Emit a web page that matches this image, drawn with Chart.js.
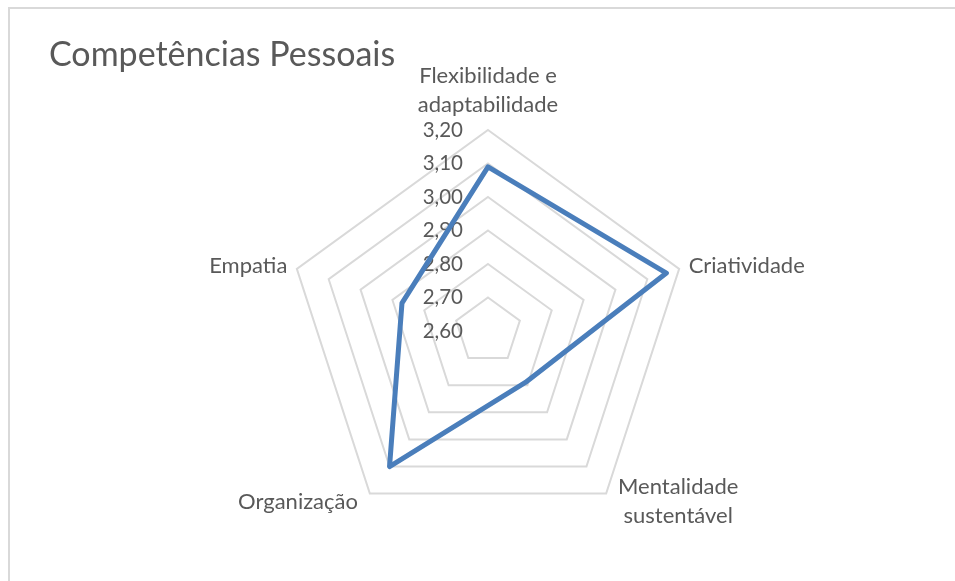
<!DOCTYPE html>
<html>
<head>
<meta charset="utf-8">
<script src="https://cdn.jsdelivr.net/npm/chart.js@4"></script>
<style>
  html, body { margin: 0; padding: 0; background: #fff; }
  #wrap { position: relative; width: 955px; height: 581px; overflow: hidden; }
  #frame {
    position: absolute; left: 8px; top: 7px; width: 1000px; height: 700px;
    border-left: 2px solid #d9d9d9; border-top: 2px solid #d9d9d9;
  }
  canvas { position: absolute; left: 0; top: 0; }
</style>
</head>
<body>
<div id="wrap">
  <div id="frame"></div>
  <canvas id="radar" width="955" height="581"></canvas>
</div>
<script>
// chart data
const chartTitle = "Competências Pessoais";
const categories = [
  ["Flexibilidade e", "adaptabilidade"],
  "Criatividade",
  ["Mentalidade", "sustentável"],
  "Organização",
  "Empatia",
];
const scores = [3.09, 3.16, 2.79, 3.1, 2.87];
const tickMin = 2.6;
const tickMax = 3.2;
const tickStep = 0.1;

const textColor = "#595959";
const fontFamily = "Lato, 'Open Sans', sans-serif";

function fmt(v) {
  return v.toFixed(2).replace(".", ",");
}

// tick labels sit left of the vertical axis, under the data line
const tickLabels = {
  id: "tickLabels",
  beforeDatasetsDraw(chart) {
    const scale = chart.scales.r;
    const ctx = chart.ctx;
    ctx.save();
    ctx.font = "20.5px " + fontFamily;
    ctx.fillStyle = textColor;
    ctx.textAlign = "right";
    ctx.textBaseline = "middle";
    scale.ticks.forEach((t) => {
      const y = scale.yCenter - scale.getDistanceFromCenterForValue(t.value);
      ctx.fillText(fmt(t.value), scale.xCenter - 25, y);
    });
    ctx.restore();
  },
};

// category labels, placed the way Excel does it
const categoryLabels = {
  id: "categoryLabels",
  afterDraw(chart) {
    const scale = chart.scales.r;
    const ctx = chart.ctx;
    const lineH = 29;
    ctx.save();
    ctx.font = "22px " + fontFamily;
    ctx.fillStyle = textColor;
    ctx.textBaseline = "middle";
    categories.forEach((label, i) => {
      const lines = Array.isArray(label) ? label : [label];
      const p = scale.getPointPosition(i, scale.drawingArea + 10);
      const w = Math.max(...lines.map((l) => ctx.measureText(l).width));
      // lower labels sit a bit further out sideways
      const gap = p.y > scale.yCenter ? 6 : 0;
      let cx, top;
      if (Math.abs(p.x - scale.xCenter) < 2) {
        cx = p.x;
        top = p.y - 15 - (lines.length - 1) * lineH;
      } else if (p.x > scale.xCenter) {
        cx = p.x + gap + w / 2;
        top = p.y - ((lines.length - 1) * lineH) / 2;
      } else {
        cx = p.x - gap - w / 2;
        top = p.y - ((lines.length - 1) * lineH) / 2;
      }
      ctx.textAlign = "center";
      lines.forEach((l, k) => ctx.fillText(l, cx, top + k * lineH));
    });
    ctx.restore();
  },
};

// chart title
const titleText = {
  id: "titleText",
  afterDraw(chart) {
    const ctx = chart.ctx;
    ctx.save();
    ctx.font = "34px " + fontFamily;
    ctx.fillStyle = textColor;
    ctx.textAlign = "left";
    ctx.textBaseline = "alphabetic";
    ctx.fillText(chartTitle, 49, 66);
    ctx.restore();
  },
};

new Chart(document.getElementById("radar").getContext("2d"), {
  type: "radar",
  data: {
    labels: categories,
    datasets: [
      {
        label: chartTitle,
        data: scores,
        borderColor: "#4a7ebb",
        backgroundColor: "rgba(0,0,0,0)",
        borderWidth: 5,
        borderJoinStyle: "round",
        pointRadius: 0,
        pointHoverRadius: 0,
        fill: false,
        tension: 0,
      },
    ],
  },
  options: {
    responsive: false,
    animation: false,
    devicePixelRatio: 1,
    layout: {
      padding: { left: 287, right: 266, top: 130, bottom: 49 },
    },
    plugins: {
      legend: { display: false },
      title: { display: false },
      tooltip: { enabled: false },
    },
    scales: {
      r: {
        min: tickMin,
        max: tickMax,
        angleLines: { display: false },
        grid: { color: "#d9d9d9", lineWidth: 2 },
        pointLabels: { display: false },
        ticks: { display: false, stepSize: tickStep },
      },
    },
  },
  plugins: [tickLabels, categoryLabels, titleText],
});
</script>
</body>
</html>
